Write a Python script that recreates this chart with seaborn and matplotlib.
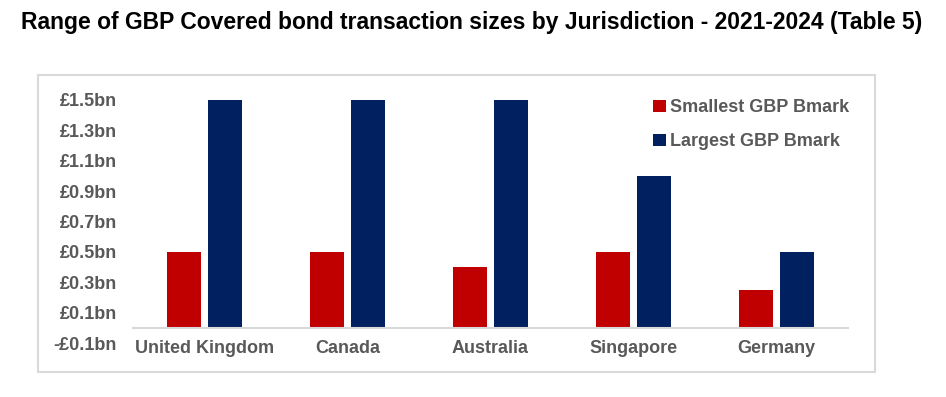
import matplotlib
matplotlib.use("Agg")
import matplotlib.pyplot as plt
import seaborn as sns
import pandas as pd
from matplotlib.patches import Rectangle
from matplotlib.ticker import FuncFormatter

jurisdictions = ["United Kingdom", "Canada", "Australia", "Singapore", "Germany"]
smallest = [0.5, 0.5, 0.4, 0.5, 0.25]
largest = [1.5, 1.5, 1.5, 1.0, 0.5]
series_names = ["Smallest GBP Bmark", "Largest GBP Bmark"]
colors = ["#C00000", "#002060"]
yticks = [-0.1, 0.1, 0.3, 0.5, 0.7, 0.9, 1.1, 1.3, 1.5]
title = "Range of GBP Covered bond transaction sizes by Jurisdiction - 2021-2024 (Table 5)"

df = pd.DataFrame({
    "Jurisdiction": jurisdictions * 2,
    "Series": [series_names[0]] * len(jurisdictions) + [series_names[1]] * len(jurisdictions),
    "Value": smallest + largest,
})

sns.set_theme(style="white")
plt.rcParams["font.family"] = ["Liberation Sans", "DejaVu Sans"]

fig = plt.figure(figsize=(9.46, 3.97), dpi=100)
ax = fig.add_axes([133 / 946, 1 - 343 / 397, (848 - 133) / 946, (343 - 100) / 397])

sns.barplot(data=df, x="Jurisdiction", y="Value", hue="Series",
            palette=colors, width=0.56, gap=0.15, ax=ax, saturation=1,
            linewidth=0)

ax.set_ylim(-0.1, 1.5)
ax.set_xlim(-0.5, 4.5)
ax.set_yticks(yticks)

def fmt(v, pos):
    return f"-£{abs(v):.1f}bn" if v < 0 else f"£{v:.1f}bn"
ax.yaxis.set_major_formatter(FuncFormatter(fmt))

for s in ["top", "right", "left"]:
    ax.spines[s].set_visible(False)
ax.spines["bottom"].set_position(("data", 0))
ax.spines["bottom"].set_color("#D9D9D9")
ax.spines["bottom"].set_linewidth(1.5)
ax.tick_params(axis="both", length=0, labelsize=13, labelcolor="#595959")
ax.tick_params(axis="x", pad=9)
ax.tick_params(axis="y", pad=11.5)
for lbl in ax.get_xticklabels() + ax.get_yticklabels():
    lbl.set_fontweight("bold")
ax.set_xlabel("")
ax.set_ylabel("")

leg = ax.legend(loc="upper right", bbox_to_anchor=(1.025, 1.07), frameon=False,
                handlelength=0.7, handleheight=0.7, handletextpad=0.25,
                labelspacing=0.95, fontsize=13)
for t in leg.get_texts():
    t.set_color("#595959")
    t.set_fontweight("bold")

fig.patches.append(Rectangle((38 / 946, 1 - 372 / 397), (875 - 38) / 946, (372 - 75) / 397,
                             transform=fig.transFigure, fill=False,
                             edgecolor="#D9D9D9", linewidth=1.5))

fig.text(472 / 946, 1 - 23 / 397, title, ha="center", va="center",
         fontsize=16.5, fontweight="bold", color="black")

fig.savefig("out.png", dpi=100)
